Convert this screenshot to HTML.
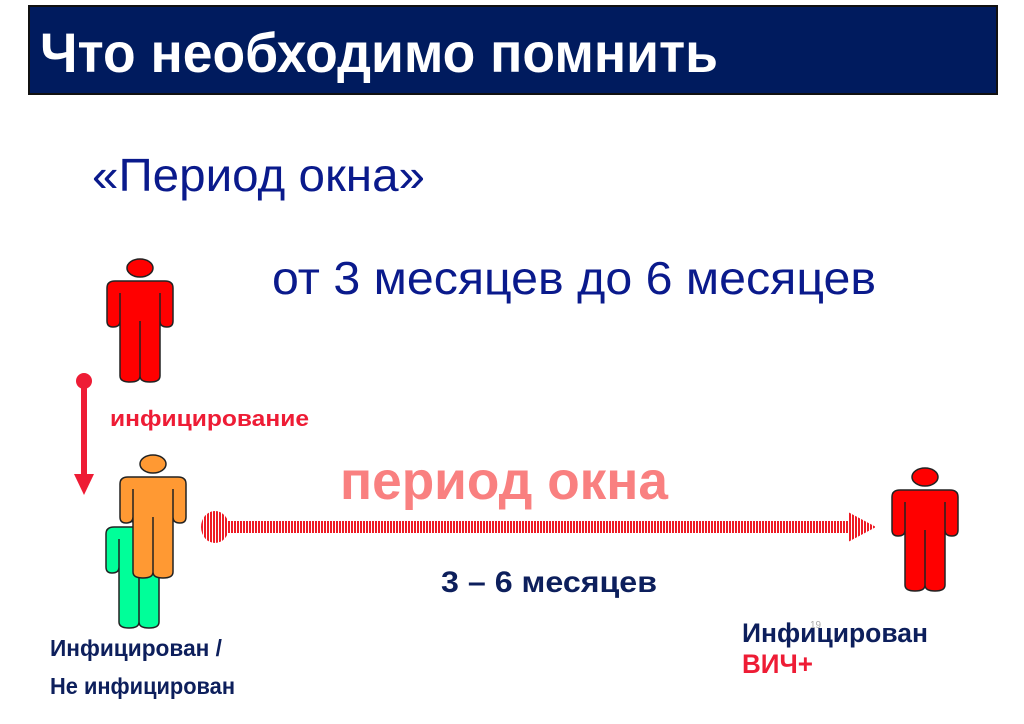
<!DOCTYPE html>
<html><head><meta charset="utf-8"><style>
html,body{margin:0;padding:0;background:#fff;}
svg{display:block;}
text{font-family:"Liberation Sans",sans-serif;}
</style></head><body>
<svg width="1024" height="724" viewBox="0 0 1024 724" xmlns="http://www.w3.org/2000/svg">
<defs>
<g id="p">
<ellipse cx="33" cy="9" rx="13" ry="9" stroke="#222" stroke-width="1.5"/>
<path d="M0,29 Q0,22 8,22 H58 Q66,22 66,29 V62 Q66,68 60,68 Q53,68 53,62 V117 Q53,123 43,123 Q33,123 33,117 Q33,123 23,123 Q13,123 13,117 V62 Q13,68 6,68 Q0,68 0,62 Z" stroke="#222" stroke-width="1.5"/>
<path d="M13,34 V62 M53,34 V62 M33,62 V117" stroke="#222" stroke-width="1.5" fill="none"/>
</g>
<pattern id="st" width="3" height="40" patternUnits="userSpaceOnUse">
<rect width="2" height="40" fill="#ee1c25"/>
</pattern>
</defs>
<rect x="29" y="6" width="968" height="88" fill="#001b5e" stroke="#111" stroke-width="2"/>
<text x="40" y="72" font-size="56" font-weight="bold" fill="#fff" textLength="678" lengthAdjust="spacingAndGlyphs">Что необходимо помнить</text>
<text x="92" y="191" font-size="46" fill="#0a1a8c" textLength="333" lengthAdjust="spacingAndGlyphs">«Период окна»</text>
<text x="272" y="294" font-size="46" fill="#0a1a8c" textLength="604" lengthAdjust="spacingAndGlyphs">от 3 месяцев до 6 месяцев</text>
<use href="#p" x="107" y="259" fill="#ff0000"/>
<circle cx="84" cy="381" r="8" fill="#ee1c35"/>
<rect x="81" y="381" width="6" height="94" fill="#ee1c35"/>
<polygon points="74,474 94,474 84,495" fill="#ee1c35"/>
<text x="110" y="426" font-size="22" font-weight="bold" fill="#ee1c35" textLength="199" lengthAdjust="spacingAndGlyphs">инфицирование</text>
<use href="#p" x="106" y="505" fill="#00ff99"/>
<use href="#p" x="120" y="455" fill="#ff9933"/>
<text x="340" y="499" font-size="54" font-weight="bold" fill="#f98080" textLength="328" lengthAdjust="spacingAndGlyphs">период окна</text>
<ellipse cx="215" cy="527" rx="14" ry="16" fill="url(#st)"/>
<rect x="226" y="521" width="624" height="12" fill="url(#st)"/>
<polygon points="848,512 876,527 848,542" fill="url(#st)"/>
<use href="#p" x="892" y="468" fill="#ff0000"/>
<text x="441" y="592" font-size="30" font-weight="bold" fill="#0d1f5c" textLength="216" lengthAdjust="spacingAndGlyphs">3 – 6 месяцев</text>
<text x="50" y="656" font-size="23" font-weight="bold" fill="#0d1f5c" textLength="172" lengthAdjust="spacingAndGlyphs">Инфицирован /</text>
<text x="50" y="694" font-size="23" font-weight="bold" fill="#0d1f5c" textLength="185" lengthAdjust="spacingAndGlyphs">Не инфицирован</text>
<text x="810" y="628" font-size="10" fill="#aaa">19</text>
<text x="742" y="642" font-size="27" font-weight="bold" fill="#0d1f5c" textLength="186" lengthAdjust="spacingAndGlyphs">Инфицирован</text>
<text x="742" y="673" font-size="27" font-weight="bold" fill="#ee1c35" textLength="71" lengthAdjust="spacingAndGlyphs">ВИЧ+</text>
</svg>
</body></html>
